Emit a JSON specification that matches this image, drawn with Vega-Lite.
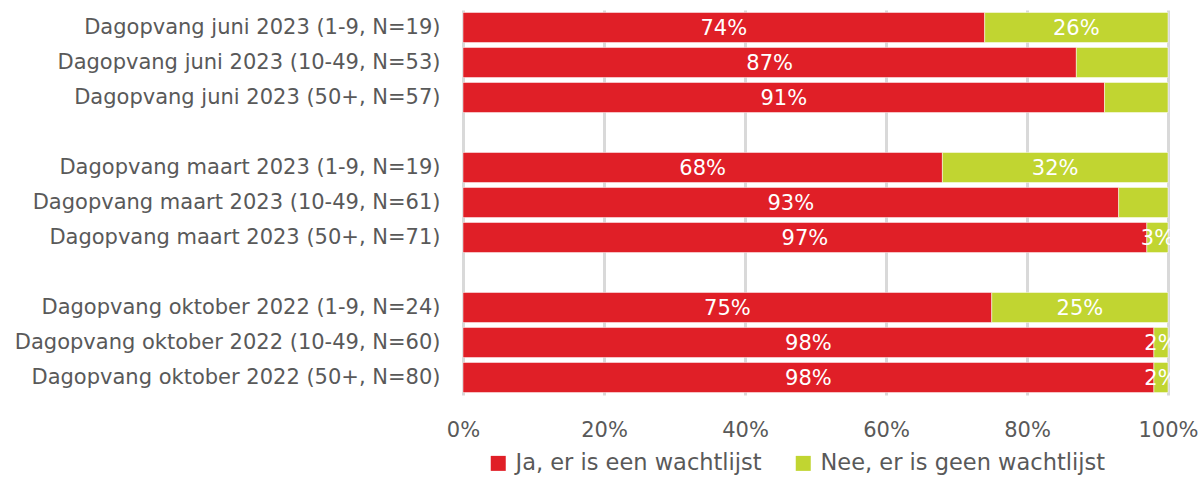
{
  "$schema": "https://vega.github.io/schema/vega-lite/v6.json",
  "autosize": "none",
  "width": 705,
  "height": 385,
  "padding": {"left": 463, "top": 10, "right": 32, "bottom": 82},
  "config": {
    "view": {"stroke": null},
    "font": "DejaVu Sans",
    "axis": {"labelFont": "DejaVu Sans", "labelColor": "#595959", "labelFontSize": 21}
  },
  "data": {"values": [
    {"cat": "Dagopvang juni 2023 (1-9, N=19)", "resp": "Ja, er is een wachtlijst", "val": 74, "show": true},
    {"cat": "Dagopvang juni 2023 (1-9, N=19)", "resp": "Nee, er is geen wachtlijst", "val": 26, "show": true},
    {"cat": "Dagopvang juni 2023 (10-49, N=53)", "resp": "Ja, er is een wachtlijst", "val": 87, "show": true},
    {"cat": "Dagopvang juni 2023 (10-49, N=53)", "resp": "Nee, er is geen wachtlijst", "val": 13, "show": false},
    {"cat": "Dagopvang juni 2023 (50+, N=57)", "resp": "Ja, er is een wachtlijst", "val": 91, "show": true},
    {"cat": "Dagopvang juni 2023 (50+, N=57)", "resp": "Nee, er is geen wachtlijst", "val": 9, "show": false},
    {"cat": "Dagopvang maart 2023 (1-9, N=19)", "resp": "Ja, er is een wachtlijst", "val": 68, "show": true},
    {"cat": "Dagopvang maart 2023 (1-9, N=19)", "resp": "Nee, er is geen wachtlijst", "val": 32, "show": true},
    {"cat": "Dagopvang maart 2023 (10-49, N=61)", "resp": "Ja, er is een wachtlijst", "val": 93, "show": true},
    {"cat": "Dagopvang maart 2023 (10-49, N=61)", "resp": "Nee, er is geen wachtlijst", "val": 7, "show": false},
    {"cat": "Dagopvang maart 2023 (50+, N=71)", "resp": "Ja, er is een wachtlijst", "val": 97, "show": true},
    {"cat": "Dagopvang maart 2023 (50+, N=71)", "resp": "Nee, er is geen wachtlijst", "val": 3, "show": true},
    {"cat": "Dagopvang oktober 2022 (1-9, N=24)", "resp": "Ja, er is een wachtlijst", "val": 75, "show": true},
    {"cat": "Dagopvang oktober 2022 (1-9, N=24)", "resp": "Nee, er is geen wachtlijst", "val": 25, "show": true},
    {"cat": "Dagopvang oktober 2022 (10-49, N=60)", "resp": "Ja, er is een wachtlijst", "val": 98, "show": true},
    {"cat": "Dagopvang oktober 2022 (10-49, N=60)", "resp": "Nee, er is geen wachtlijst", "val": 2, "show": true},
    {"cat": "Dagopvang oktober 2022 (50+, N=80)", "resp": "Ja, er is een wachtlijst", "val": 98, "show": true},
    {"cat": "Dagopvang oktober 2022 (50+, N=80)", "resp": "Nee, er is geen wachtlijst", "val": 2, "show": true}
  ]},
  "transform": [
    {"stack": "val", "groupby": ["cat"], "sort": [{"field": "resp", "order": "ascending"}], "as": ["x0", "x1"]},
    {"calculate": "(datum.x0 + datum.x1) / 2", "as": "mid"},
    {"calculate": "datum.val + '%'", "as": "txt"}
  ],
  "encoding": {
    "y": {
      "field": "cat", "type": "nominal", "title": null,
      "scale": {
        "domain": [
          "Dagopvang juni 2023 (1-9, N=19)", "Dagopvang juni 2023 (10-49, N=53)", "Dagopvang juni 2023 (50+, N=57)", "gap1",
          "Dagopvang maart 2023 (1-9, N=19)", "Dagopvang maart 2023 (10-49, N=61)", "Dagopvang maart 2023 (50+, N=71)", "gap2",
          "Dagopvang oktober 2022 (1-9, N=24)", "Dagopvang oktober 2022 (10-49, N=60)", "Dagopvang oktober 2022 (50+, N=80)"
        ],
        "paddingInner": 0.14, "paddingOuter": 0.07
      },
      "axis": {
        "ticks": false, "domain": false, "labelPadding": 23, "labelLimit": 460,
        "labelExpr": "indexof(datum.value, 'gap') === 0 ? '' : datum.value"
      }
    }
  },
  "layer": [
    {
      "mark": {"type": "bar", "stroke": "white", "strokeWidth": 0.5},
      "encoding": {
        "x": {
          "field": "x0", "type": "quantitative", "title": null,
          "scale": {"domain": [0, 100], "nice": false},
          "axis": {
            "values": [0, 20, 40, 60, 80, 100], "labelExpr": "datum.value + '%'",
            "ticks": false, "domain": false, "labelPadding": 24, "labelFlush": false,
            "grid": true, "gridColor": "#d9d9d9", "gridWidth": 3
          }
        },
        "x2": {"field": "x1"},
        "color": {
          "field": "resp", "type": "nominal",
          "scale": {"domain": ["Ja, er is een wachtlijst", "Nee, er is geen wachtlijst"], "range": ["#e01f27", "#c1d531"]},
          "legend": {
            "title": null, "orient": "none", "direction": "horizontal",
            "legendX": 24, "legendY": 442,
            "symbolType": "square", "symbolSize": 225, "symbolStrokeWidth": 0, "symbolOpacity": 1,
            "labelFontSize": 22.5, "labelColor": "#595959", "labelFont": "DejaVu Sans",
            "columnPadding": 30, "labelOffset": 6, "labelLimit": 500
          }
        }
      }
    },
    {
      "transform": [{"filter": "datum.show"}],
      "mark": {"type": "text", "color": "white", "fontSize": 21, "align": "center", "baseline": "middle", "dy": 1},
      "encoding": {
        "x": {"field": "mid", "type": "quantitative"},
        "text": {"field": "txt", "type": "nominal"}
      }
    }
  ]
}
